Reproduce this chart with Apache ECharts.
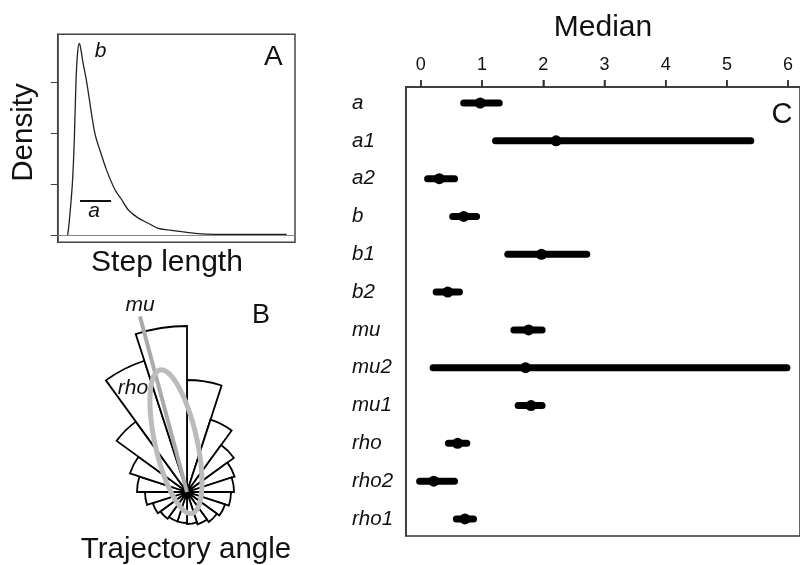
<!DOCTYPE html>
<html>
<head>
<meta charset="utf-8">
<script src="https://cdn.jsdelivr.net/npm/echarts@6/dist/echarts.min.js"></script>
<style>html,body{margin:0;padding:0;background:#fff}#main{width:800px;height:565px}</style>
</head>
<body>
<div id="main"></div>
<script>
// ---------- Panel A: step length density ----------
const stepX    = [4.2, 4.5, 5.2, 6.2, 7.0, 7.7, 8.3, 9.0, 9.6, 10.5, 12.2, 14.0, 15.4, 16.4, 17.8, 20.6, 24.2, 27.0, 29.8, 34.0, 38.2, 42.4, 46.6, 52.3, 58.0, 66.3, 81.0, 96.5];
const densityY = [0, 0.10, 0.43, 1.02, 1.86, 3.0, 3.52, 3.75, 3.68, 3.42, 3.0, 2.45, 2.05, 1.86, 1.66, 1.27, 0.88, 0.69, 0.49, 0.33, 0.23, 0.13, 0.10, 0.065, 0.033, 0.014, 0.01, 0.01];
const densityTicks = [0, 1, 2, 3];
const aSegmentX = [9.4, 22.5];
const aSegmentY = 0.665;

// ---------- Panel B: trajectory angle rose ----------
const angleBins = ['0','18','36','54','72','90','108','126','144','162','180','198','216','234','252','270','288','306','324','342'];
const roseCounts = [112, 76, 58, 50, 47, 44, 40, 37, 34, 32, 31, 31, 33, 36, 42, 50, 60, 87, 138, 166];
const muAngle = 345;
const muLength = 182;
const rhoEllipse = [22, 167, 125, 347.5, 21]; // [r1, angle1, r2, angle2, semi-minor]

// ---------- Panel C: posterior medians with intervals ----------
const params  = ['a','a1','a2','b','b1','b2','mu','mu2','mu1','rho','rho2','rho1'];
const lowVals = [0.70, 1.22, 0.11, 0.52, 1.42, 0.25, 1.52, 0.20, 1.59, 0.45, -0.02, 0.58];
const medVals = [0.97, 2.21, 0.30, 0.70, 1.97, 0.44, 1.76, 1.71, 1.80, 0.60, 0.21, 0.72];
const highVals= [1.28, 5.39, 0.55, 0.91, 2.71, 0.63, 1.98, 5.98, 1.98, 0.75, 0.55, 0.86];
const medianTicks = [0, 1, 2, 3, 4, 5, 6];

const FONT = '"Liberation Sans", Arial, Helvetica, sans-serif';
const chart = echarts.init(document.getElementById('main'), null, {renderer: 'canvas'});

const nRows = params.length;
// row position counted from the bottom so the first parameter sits at the top
const rowPos = params.map((p, i) => nRows - 1 - i);
const rangeData = params.map((p, i) => [rowPos[i], lowVals[i], medVals[i], highVals[i]]);

function txt(text, x, y, size, opts) {
  opts = opts || {};
  return {
    type: 'text', x: x, y: y, rotation: opts.rotation || 0, z: 100,
    style: {
      text: text, fontSize: size, fontFamily: FONT, fontStyle: opts.italic ? 'italic' : 'normal',
      fill: '#111', align: opts.align || 'center', verticalAlign: 'middle'
    }
  };
}

const option = {
  animation: false,
  backgroundColor: '#fff',
  textStyle: {fontFamily: FONT},
  grid: [
    {left: 57.7, top: 34.3, right: 505, bottom: 322.7, show: true, borderColor: '#444', borderWidth: 1.5, backgroundColor: 'transparent'},
    {left: 406, top: 87, right: -3, bottom: 29, show: true, borderColor: '#333', borderWidth: 1.5, backgroundColor: 'transparent'}
  ],
  xAxis: [
    {gridIndex: 0, type: 'value', min: 0, max: 100, show: false},
    {gridIndex: 1, type: 'value', position: 'top', min: -0.243, max: 6.194,
     axisLine: {show: true, onZero: false, lineStyle: {color: '#333', width: 1.5}}, splitLine: {show: false},
     axisTick: {show: true, length: 7, customValues: medianTicks, lineStyle: {color: '#333', width: 1.5}},
     axisLabel: {show: true, customValues: medianTicks, fontSize: 18, color: '#111', margin: 13},
     name: 'Median', nameLocation: 'middle', nameGap: 44, nameTextStyle: {fontSize: 30, color: '#111'}}
  ],
  yAxis: [
    {gridIndex: 0, type: 'value', min: -0.143, max: 3.93,
     axisLine: {show: true, onZero: false, lineStyle: {color: '#444', width: 1.5}}, splitLine: {show: false}, axisLabel: {show: false},
     axisTick: {show: true, length: 7, customValues: densityTicks, lineStyle: {color: '#444', width: 1}}},
    {gridIndex: 1, type: 'value', min: -0.45, max: 11.423,
     axisLine: {show: true, onZero: false, lineStyle: {color: '#333', width: 1.5}}, splitLine: {show: false}, axisTick: {show: false},
     axisLabel: {show: true, customValues: rowPos, formatter: v => params[nRows - 1 - Math.round(v)],
       align: 'left', margin: 54, fontSize: 20.5, fontStyle: 'italic', color: '#111'}}
  ],
  polar: [
    {center: [187, 492], radius: 182},
    {center: [187, 492], radius: 182}
  ],
  angleAxis: [
    {polarIndex: 0, type: 'category', data: angleBins, startAngle: 90, clockwise: true, show: false, boundaryGap: true},
    {polarIndex: 1, type: 'value', min: 0, max: 360, startAngle: 90, clockwise: true, show: false}
  ],
  radiusAxis: [
    {polarIndex: 0, type: 'value', min: 0, max: 182, show: false},
    {polarIndex: 1, type: 'value', min: 0, max: 182, show: false}
  ],
  series: [
    {
      type: 'line', xAxisIndex: 0, yAxisIndex: 0, data: stepX.map((x, i) => [x, densityY[i]]),
      smooth: 0.3, symbol: 'none', lineStyle: {color: '#222', width: 1.3}, silent: true,
      markLine: {silent: true, symbol: 'none', label: {show: false},
        lineStyle: {color: '#888', width: 1, type: 'solid'}, data: [{yAxis: 0}]}
    },
    {
      type: 'line', xAxisIndex: 0, yAxisIndex: 0, data: aSegmentX.map(x => [x, aSegmentY]),
      symbol: 'none', lineStyle: {color: '#111', width: 2}, silent: true
    },
    {
      type: 'bar', coordinateSystem: 'polar', polarIndex: 0, data: roseCounts,
      barCategoryGap: '0%', itemStyle: {color: '#fff', borderColor: '#000', borderWidth: 1.8}, silent: true
    },
    {
      type: 'line', coordinateSystem: 'polar', polarIndex: 1, data: [[0, muAngle], [muLength, muAngle]],
      symbol: 'none', lineStyle: {color: '#aaa', width: 4}, clip: false, silent: true, z: 5
    },
    {
      type: 'custom', coordinateSystem: 'polar', polarIndex: 1, data: [rhoEllipse], silent: true, z: 6,
      renderItem: function (p, api) {
        const p1 = api.coord([api.value(0), api.value(1)]);
        const p2 = api.coord([api.value(2), api.value(3)]);
        const o = api.coord([0, 0]);
        const q = api.coord([100, 0]);
        const s = Math.hypot(q[0] - o[0], q[1] - o[1]) / 100;
        const b = api.value(4) * s;
        const cx = (p1[0] + p2[0]) / 2, cy = (p1[1] + p2[1]) / 2;
        const a = Math.hypot(p2[0] - p1[0], p2[1] - p1[1]) / 2;
        const th = Math.atan2(p2[1] - p1[1], p2[0] - p1[0]);
        const pts = [];
        for (let k = 0; k < 120; k++) {
          const t = k / 120 * Math.PI * 2;
          pts.push([cx + a * Math.cos(t) * Math.cos(th) - b * Math.sin(t) * Math.sin(th),
                    cy + a * Math.cos(t) * Math.sin(th) + b * Math.sin(t) * Math.cos(th)]);
        }
        return {type: 'polygon', shape: {points: pts}, style: {fill: 'none', stroke: '#bbb', lineWidth: 5}};
      }
    },
    {
      type: 'custom', xAxisIndex: 1, yAxisIndex: 1, data: rangeData, silent: true,
      encode: {x: [1, 2, 3], y: 0},
      renderItem: function (p, api) {
        const r = api.value(0);
        const pl = api.coord([api.value(1), r]);
        const pm = api.coord([api.value(2), r]);
        const ph = api.coord([api.value(3), r]);
        return {type: 'group', children: [
          {type: 'line', shape: {x1: pl[0], y1: pl[1], x2: ph[0], y2: ph[1]},
           style: {stroke: '#000', lineWidth: 7, lineCap: 'round'}},
          {type: 'circle', shape: {cx: pm[0], cy: pm[1], r: 5.5}, style: {fill: '#000'}}
        ]};
      }
    },
    {
      // tick marks of the top "Median" axis, placed through the axis scale
      type: 'custom', xAxisIndex: 1, yAxisIndex: 1, data: medianTicks.map(v => [v, 0]), silent: true,
      clip: false, z: 10,
      renderItem: function (p, api) {
        const pt = api.coord([api.value(0), 0]);
        const top = p.coordSys.y;
        return {type: 'line', shape: {x1: pt[0], y1: top, x2: pt[0], y2: top - 7},
                style: {stroke: '#333', lineWidth: 1.5}};
      }
    }
  ],
  graphic: [
    txt('Density', 23.7, 132.5, 29.5, {rotation: Math.PI / 2}),
    txt('Step length', 167, 263, 30),
    txt('Trajectory angle', 186, 549.5, 29.5),
    txt('A', 273.3, 57, 28),
    txt('B', 261, 316, 27),
    txt('C', 782, 115, 29),
    txt('b', 100.5, 51, 21, {italic: true}),
    txt('a', 94, 211, 21, {italic: true}),
    txt('mu', 140, 305, 21, {italic: true}),
    txt('rho', 133, 388, 21, {italic: true})
  ]
};
chart.setOption(option);
</script>
</body>
</html>
